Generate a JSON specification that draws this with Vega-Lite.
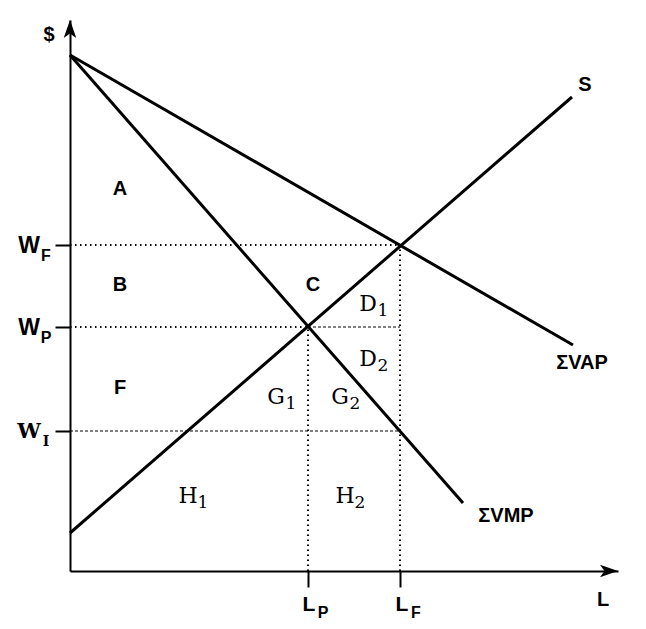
{
  "$schema": "https://vega.github.io/schema/vega-lite/v6.json",
  "autosize": "none",
  "width": 548,
  "height": 551,
  "padding": {"left": 70, "top": 20, "right": 28, "bottom": 58},
  "background": "white",
  "config": {"view": {"stroke": null}},
  "datasets": {
    "curves": [
      {"series": "VAP", "L": 0, "P": 103.2},
      {"series": "VAP", "L": 100.6, "P": 45.2},
      {"series": "VMP", "L": 0, "P": 103.2},
      {"series": "VMP", "L": 78.6, "P": 13.6},
      {"series": "S", "L": 0, "P": 7.6},
      {"series": "S", "L": 100.4, "P": 94.8}
    ],
    "dotted": [
      {"x": 0, "x2": 66, "y": 65.2, "y2": 65.2},
      {"x": 0, "x2": 47.6, "y": 48.8, "y2": 48.8},
      {"x": 47.6, "x2": 47.6, "y": 0, "y2": 48.8},
      {"x": 66, "x2": 66, "y": 0, "y2": 65.2}
    ],
    "dashed": [
      {"x": 47.6, "x2": 66, "y": 48.8, "y2": 48.8},
      {"x": 0, "x2": 66, "y": 28, "y2": 28}
    ],
    "sans": [
      {"t": "A", "x": 10, "y": 76.4},
      {"t": "B", "x": 10, "y": 57.2},
      {"t": "C", "x": 48.6, "y": 57.2},
      {"t": "F", "x": 10, "y": 36.6},
      {"t": "S", "x": 103, "y": 97.2},
      {"t": "ΣVAP", "x": 102.4, "y": 41.6},
      {"t": "ΣVMP", "x": 87.2, "y": 11},
      {"t": "$", "x": -4.2, "y": 107.2},
      {"t": "L", "x": 106.6, "y": -5.8}
    ],
    "serif": [
      {"t": "D", "s": "1", "x": 59.6, "y": 53.4},
      {"t": "D", "s": "2", "x": 59.6, "y": 42.4},
      {"t": "G", "s": "1", "x": 41.2, "y": 34.8},
      {"t": "G", "s": "2", "x": 54, "y": 34.8},
      {"t": "H", "s": "1", "x": 23.6, "y": 15},
      {"t": "H", "s": "2", "x": 55, "y": 15}
    ],
    "wlab": [
      {"t": "W", "s": "F", "x": -8.2, "y": 65},
      {"t": "W", "s": "P", "x": -8.2, "y": 48.6}
    ],
    "llab": [
      {"t": "L", "s": "P", "x": 47.8, "y": -6.8},
      {"t": "L", "s": "F", "x": 66.4, "y": -6.8}
    ],
    "wi": [
      {"t": "W", "s": "I", "x": -8.2, "y": 27.8}
    ],
    "arrowUp": [{"x": 0, "y": 108.4}],
    "arrowRight": [{"x": 107.8, "y": 0}]
  },
  "layer": [
    {
      "data": {"name": "curves"},
      "mark": {"type": "line", "color": "black", "strokeWidth": 3, "clip": false},
      "encoding": {
        "x": {"field": "L", "type": "quantitative", "scale": {"domain": [0, 109.6], "nice": false, "zero": false},
          "axis": {"values": [47.6, 66], "labels": false, "title": null, "grid": false, "domainColor": "black", "domainWidth": 2, "tickColor": "black", "tickWidth": 2, "tickSize": 16}},
        "y": {"field": "P", "type": "quantitative", "scale": {"domain": [0, 110.2], "nice": false, "zero": false},
          "axis": {"values": [28, 48.8, 65.2], "labels": false, "title": null, "grid": false, "domainColor": "black", "domainWidth": 2, "tickColor": "black", "tickWidth": 2, "tickSize": 15}},
        "detail": {"field": "series"}
      }
    },
    {
      "data": {"name": "dotted"},
      "mark": {"type": "rule", "color": "black", "strokeWidth": 2, "strokeDash": [1.5, 3.5], "clip": false},
      "encoding": {
        "x": {"field": "x", "type": "quantitative"},
        "x2": {"field": "x2"},
        "y": {"field": "y", "type": "quantitative"},
        "y2": {"field": "y2"}
      }
    },
    {
      "data": {"name": "dashed"},
      "mark": {"type": "rule", "color": "black", "strokeWidth": 1, "strokeDash": [3, 2], "clip": false},
      "encoding": {
        "x": {"field": "x", "type": "quantitative"},
        "x2": {"field": "x2"},
        "y": {"field": "y", "type": "quantitative"},
        "y2": {"field": "y2"}
      }
    },
    {
      "data": {"name": "arrowUp"},
      "mark": {"type": "point", "shape": "M0,-1L0.7,1L0,0.5L-0.7,1Z", "size": 324, "filled": true, "color": "black", "opacity": 1, "clip": false},
      "encoding": {
        "x": {"field": "x", "type": "quantitative"},
        "y": {"field": "y", "type": "quantitative"}
      }
    },
    {
      "data": {"name": "arrowRight"},
      "mark": {"type": "point", "shape": "M1,0L-1,0.7L-0.5,0L-1,-0.7Z", "size": 324, "filled": true, "color": "black", "opacity": 1, "clip": false},
      "encoding": {
        "x": {"field": "x", "type": "quantitative"},
        "y": {"field": "y", "type": "quantitative"}
      }
    },
    {
      "data": {"name": "sans"},
      "mark": {"type": "text", "font": "Liberation Sans", "fontWeight": "bold", "fontSize": 20, "align": "center", "baseline": "middle", "color": "black", "clip": false},
      "encoding": {
        "x": {"field": "x", "type": "quantitative"},
        "y": {"field": "y", "type": "quantitative"},
        "text": {"field": "t"}
      }
    },
    {
      "data": {"name": "serif"},
      "mark": {"type": "text", "font": "DejaVu Serif", "fontSize": 22, "align": "center", "baseline": "middle", "color": "black", "clip": false},
      "encoding": {
        "x": {"field": "x", "type": "quantitative"},
        "y": {"field": "y", "type": "quantitative"},
        "text": {"field": "t"}
      }
    },
    {
      "data": {"name": "serif"},
      "mark": {"type": "text", "font": "DejaVu Serif", "fontSize": 17, "align": "center", "baseline": "middle", "dx": 15, "dy": 7, "color": "black", "clip": false},
      "encoding": {
        "x": {"field": "x", "type": "quantitative"},
        "y": {"field": "y", "type": "quantitative"},
        "text": {"field": "s"}
      }
    },
    {
      "data": {"name": "wlab"},
      "mark": {"type": "text", "font": "Liberation Sans", "fontWeight": "bold", "fontSize": 23, "align": "center", "baseline": "middle", "color": "black", "clip": false},
      "encoding": {
        "x": {"field": "x", "type": "quantitative"},
        "y": {"field": "y", "type": "quantitative"},
        "text": {"field": "t"}
      }
    },
    {
      "data": {"name": "wlab"},
      "mark": {"type": "text", "font": "Liberation Sans", "fontWeight": "bold", "fontSize": 16, "align": "center", "baseline": "middle", "dx": 17, "dy": 10, "color": "black", "clip": false},
      "encoding": {
        "x": {"field": "x", "type": "quantitative"},
        "y": {"field": "y", "type": "quantitative"},
        "text": {"field": "s"}
      }
    },
    {
      "data": {"name": "llab"},
      "mark": {"type": "text", "font": "Liberation Sans", "fontWeight": "bold", "fontSize": 21, "align": "center", "baseline": "middle", "color": "black", "clip": false},
      "encoding": {
        "x": {"field": "x", "type": "quantitative"},
        "y": {"field": "y", "type": "quantitative"},
        "text": {"field": "t"}
      }
    },
    {
      "data": {"name": "llab"},
      "mark": {"type": "text", "font": "Liberation Sans", "fontWeight": "bold", "fontSize": 16, "align": "center", "baseline": "middle", "dx": 14, "dy": 8, "color": "black", "clip": false},
      "encoding": {
        "x": {"field": "x", "type": "quantitative"},
        "y": {"field": "y", "type": "quantitative"},
        "text": {"field": "s"}
      }
    },
    {
      "data": {"name": "wi"},
      "mark": {"type": "text", "font": "DejaVu Serif", "fontWeight": "bold", "fontSize": 21, "align": "center", "baseline": "middle", "color": "black", "clip": false},
      "encoding": {
        "x": {"field": "x", "type": "quantitative"},
        "y": {"field": "y", "type": "quantitative"},
        "text": {"field": "t"}
      }
    },
    {
      "data": {"name": "wi"},
      "mark": {"type": "text", "font": "DejaVu Serif", "fontWeight": "bold", "fontSize": 14, "align": "center", "baseline": "middle", "dx": 17, "dy": 10, "color": "black", "clip": false},
      "encoding": {
        "x": {"field": "x", "type": "quantitative"},
        "y": {"field": "y", "type": "quantitative"},
        "text": {"field": "s"}
      }
    }
  ]
}
